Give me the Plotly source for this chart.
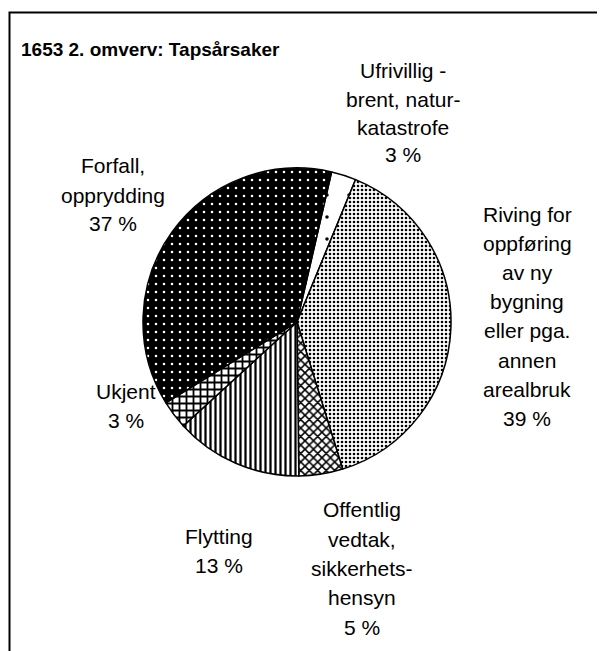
import plotly.graph_objects as go

# page body adds an 8px offset; work in reference pixels and subtract it
OFF = 8
W, H = 605 - OFF, 651 - OFF

# Data (clockwise order starting just right of 12 o'clock)
categories = ["Ufrivillig", "Riving", "Offentlig", "Flytting", "Ukjent", "Forfall"]
values = [2.6, 39.0, 4.6, 13.4, 3.0, 37.4]
label_lines = [
    ["Ufrivillig -", "brent, natur-", "katastrofe"],
    ["Riving for", "oppføring", "av ny", "bygning", "eller pga.", "annen", "arealbruk"],
    ["Offentlig", "vedtak,", "sikkerhets-", "hensyn"],
    ["Flytting"],
    ["Ukjent"],
    ["Forfall,", "opprydding"],
]
title_text = "1653 2. omverv: Tapsårsaker"

# Styles
pattern_shapes = [".", ".", "x", "|", "+", "."]
pattern_fg = ["black", "black", "black", "black", "black", "white"]
pattern_bg = ["white", "white", "white", "white", "white", "black"]
pattern_size = [22, 4, 6, 5, 7, 8]
pattern_solid = [0.02, 0.33, 0.45, 0.45, 0.45, 0.08]

# label placement (reference pixel centers): x, first line y, line spacing
label_pos = [
    (403, 71, 28),
    (527, 214, 29.2),
    (362, 510, 29.3),
    (219, 536, 29),
    (126, 391, 29),
    (113, 166, 29),
]

cx, cy, r = 297, 322, 154


def px(x):
    return (x - OFF) / W


def py(y):
    return 1 - (y - OFF) / H


fig = go.Figure(
    go.Pie(
        labels=categories,
        values=values,
        sort=False,
        direction="clockwise",
        rotation=13,
        textinfo="none",
        hoverinfo="label+percent",
        marker=dict(
            colors=pattern_bg,
            line=dict(color="black", width=1.5),
            pattern=dict(
                shape=pattern_shapes,
                fgcolor=pattern_fg,
                bgcolor=pattern_bg,
                size=pattern_size,
                solidity=pattern_solid,
                fillmode="replace",
            ),
        ),
        domain=dict(
            x=[px(cx - r), px(cx + r)],
            y=[py(cy + r), py(cy - r)],
        ),
        showlegend=False,
    )
)

annotations = []
for lines, v, (x, y0, dy) in zip(label_lines, values, label_pos):
    all_lines = lines + [f"{round(v)} %"]
    for i, t in enumerate(all_lines):
        annotations.append(
            dict(
                text=t,
                x=px(x),
                y=py(y0 + i * dy),
                xref="paper",
                yref="paper",
                xanchor="center",
                yanchor="middle",
                showarrow=False,
                font=dict(family="Liberation Sans, Arial", size=21, color="black"),
            )
        )

annotations.append(
    dict(
        text=f"<b>{title_text}</b>",
        x=px(19),
        y=py(49),
        xref="paper",
        yref="paper",
        xanchor="left",
        yanchor="middle",
        showarrow=False,
        font=dict(family="Liberation Sans, Arial", size=19, color="black"),
    )
)

fig.update_layout(
    width=W,
    height=H,
    margin=dict(l=0, r=0, t=0, b=0),
    paper_bgcolor="white",
    plot_bgcolor="white",
    annotations=annotations,
    shapes=[
        dict(
            type="rect",
            xref="paper",
            yref="paper",
            x0=px(9.5),
            x1=1.2,
            y0=-0.2,
            y1=py(12.5),
            line=dict(color="black", width=2),
            fillcolor="rgba(0,0,0,0)",
            layer="below",
        )
    ],
)

fig.write_html("out.html")
